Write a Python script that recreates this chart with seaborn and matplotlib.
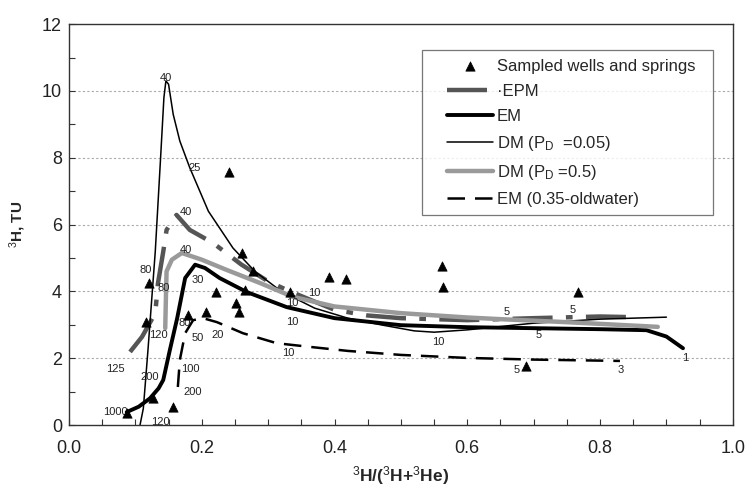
import matplotlib
matplotlib.use("Agg")
import matplotlib.pyplot as plt
from matplotlib.ticker import MultipleLocator
from matplotlib.lines import Line2D
from matplotlib.collections import PathCollection
from matplotlib.legend_handler import HandlerLine2D, HandlerPathCollection
import seaborn as sns

# sampled wells and springs
wells_x = [0.087, 0.127, 0.157, 0.116, 0.12, 0.179, 0.206, 0.221, 0.241, 0.251, 0.256,
           0.26, 0.265, 0.277, 0.333, 0.392, 0.418, 0.562, 0.563, 0.688, 0.767]
wells_y = [0.36, 0.8, 0.54, 3.08, 4.25, 3.29, 3.38, 3.98, 7.57, 3.65, 3.38,
           5.15, 4.04, 4.6, 3.98, 4.44, 4.36, 4.76, 4.14, 1.77, 3.98]

# model curves
epm_x = [0.092, 0.11, 0.13, 0.134, 0.142, 0.147, 0.162, 0.182, 0.217, 0.26, 0.3, 0.333,
         0.4, 0.45, 0.5, 0.6, 0.7, 0.8, 0.85]
epm_y = [2.19, 2.64, 3.35, 4.24, 5.19, 5.84, 6.29, 5.84, 5.45, 4.8, 4.3, 4.0,
         3.45, 3.28, 3.2, 3.14, 3.2, 3.25, 3.23]

em_x = [0.087, 0.105, 0.122, 0.135, 0.142, 0.152, 0.163, 0.175, 0.19, 0.205, 0.227, 0.268,
        0.328, 0.4, 0.5, 0.6, 0.7, 0.8, 0.87, 0.9, 0.925]
em_y = [0.39, 0.55, 0.8, 1.1, 1.35, 2.25, 3.2, 4.4, 4.8, 4.7, 4.4, 3.98,
        3.53, 3.2, 2.99, 2.93, 2.9, 2.87, 2.84, 2.65, 2.3]

dm005_x = [0.107, 0.112, 0.119, 0.13, 0.138, 0.143, 0.146, 0.150, 0.157, 0.167, 0.182, 0.21,
           0.247, 0.28, 0.32, 0.37, 0.42, 0.47, 0.52, 0.55, 0.6, 0.65, 0.7, 0.8, 0.9]
dm005_y = [0.0, 0.5, 2.25, 5.2, 8.0, 9.8, 10.3, 10.2, 9.3, 8.5, 7.7, 6.4,
           5.3, 4.6, 4.0, 3.5, 3.2, 3.0, 2.82, 2.78, 2.85, 2.95, 3.05, 3.17, 3.23]

dm05_x = [0.145, 0.146, 0.147, 0.155, 0.17, 0.2, 0.238, 0.288, 0.337, 0.4, 0.5, 0.6,
          0.65, 0.75, 0.887]
dm05_y = [2.9, 3.8, 4.6, 4.95, 5.15, 4.95, 4.64, 4.25, 3.84, 3.55, 3.35, 3.22,
          3.17, 3.08, 2.94]

old_x = [0.164, 0.167, 0.175, 0.187, 0.202, 0.223, 0.262, 0.313, 0.363, 0.42, 0.5, 0.6,
         0.7, 0.83]
old_y = [1.14, 1.95, 2.75, 3.14, 3.2, 3.08, 2.75, 2.45, 2.34, 2.22, 2.1, 2.01,
         1.96, 1.92]

# mean age labels along the curves
lab_text = ["40", "25", "40", "40", "80", "80", "30", "120", "80", "50", "20", "125",
            "200", "100", "200", "1000", "120", "10", "10", "10", "10", "10",
            "5", "5", "5", "5", "3", "1"]
lab_x = [0.146, 0.19, 0.176, 0.176, 0.116, 0.142, 0.194, 0.134, 0.175, 0.194, 0.224, 0.07,
         0.122, 0.183, 0.186, 0.07, 0.137, 0.37, 0.337, 0.337, 0.33, 0.556,
         0.66, 0.708, 0.759, 0.675, 0.831, 0.929]
lab_y = [10.4, 7.7, 6.38, 5.24, 4.64, 4.1, 4.34, 2.7, 3.05, 2.6, 2.7, 1.68,
         1.44, 1.68, 0.99, 0.39, 0.1, 3.95, 3.65, 3.08, 2.16, 2.5,
         3.38, 2.69, 3.44, 1.65, 1.65, 2.0]

sns.set_style("ticks")
plt.rcParams['font.family'] = ['Liberation Sans', 'DejaVu Sans']
plt.rcParams['mathtext.fontset'] = 'custom'
plt.rcParams['mathtext.rm'] = 'Liberation Sans'
plt.rcParams['mathtext.it'] = 'Liberation Sans:italic'
plt.rcParams['mathtext.bf'] = 'Liberation Sans:bold'

fig = plt.figure(figsize=(7.45, 4.92), dpi=100)
ax = fig.add_axes([0.0926, 0.136, 0.891, 0.815])

sns.scatterplot(x=wells_x, y=wells_y, marker="^", color="black", s=45, edgecolor="black",
                linewidth=0.5, label="Sampled wells and springs  ", ax=ax, zorder=5)
sns.lineplot(x=epm_x, y=epm_y, sort=False, estimator=None, color="#555555", lw=3.2,
             label="\u00b7EPM", ax=ax)
ax.lines[-1].set_dashes([9, 3, 1.5, 3])
sns.lineplot(x=em_x, y=em_y, sort=False, estimator=None, color="black", lw=2.8,
             label="EM", ax=ax)
sns.lineplot(x=dm005_x, y=dm005_y, sort=False, estimator=None, color="black", lw=1.1,
             label=r"DM (P$_\mathrm{D}$  =0.05)", ax=ax)
sns.lineplot(x=dm05_x, y=dm05_y, sort=False, estimator=None, color="#9a9a9a", lw=3.2,
             label=r"DM (P$_\mathrm{D}$ =0.5)", ax=ax)
sns.lineplot(x=old_x, y=old_y, sort=False, estimator=None, color="black", lw=1.8,
             label="EM (0.35-oldwater)", ax=ax)
ax.lines[-1].set_dashes([7, 4])

for t, x, y in zip(lab_text, lab_x, lab_y):
    ax.text(x, y, t, fontsize=8, ha="center", va="center", color="#222222")

ax.set_xlim(0, 1.0)
ax.set_ylim(0, 12)
ax.xaxis.set_major_locator(MultipleLocator(0.2))
ax.xaxis.set_minor_locator(MultipleLocator(0.05))
ax.yaxis.set_major_locator(MultipleLocator(2))
ax.yaxis.set_minor_locator(MultipleLocator(1))
ax.xaxis.set_major_formatter(plt.FormatStrFormatter("%.1f"))
ax.tick_params(which="both", direction="in", labelsize=13, length=4, width=0.8,
               colors="#333333", labelcolor="#222222")
ax.tick_params(axis="x", which="both", pad=11)
ax.tick_params(axis="y", which="both", pad=5)
for y in [2, 4, 6, 8, 10]:
    ax.axhline(y, color="#aaaaaa", lw=0.8, ls=(0, (2, 2)), zorder=0)
for sp in ax.spines.values():
    sp.set_color("#333333")
    sp.set_linewidth(1.0)

ax.set_xlabel(r"$^{3}$H/($^{3}$H+$^{3}$He)", fontsize=12.5, fontweight="bold", labelpad=5)
ax.set_ylabel(r"$^{3}$H, TU", fontsize=11, fontweight="bold", labelpad=10)

# extra room on the left of each legend handle
hmap = {Line2D: HandlerLine2D(xpad=1.0), PathCollection: HandlerPathCollection(xpad=1.0)}
leg = ax.legend(loc="upper right", bbox_to_anchor=(0.97, 0.935), fontsize=12,
                handlelength=3.8, handletextpad=0.2, labelspacing=0.6, borderpad=0.5,
                borderaxespad=0, fancybox=False, frameon=True, edgecolor="#555555",
                handler_map=hmap)
leg.get_frame().set_linewidth(0.9)

fig.savefig("out.png", dpi=100)
